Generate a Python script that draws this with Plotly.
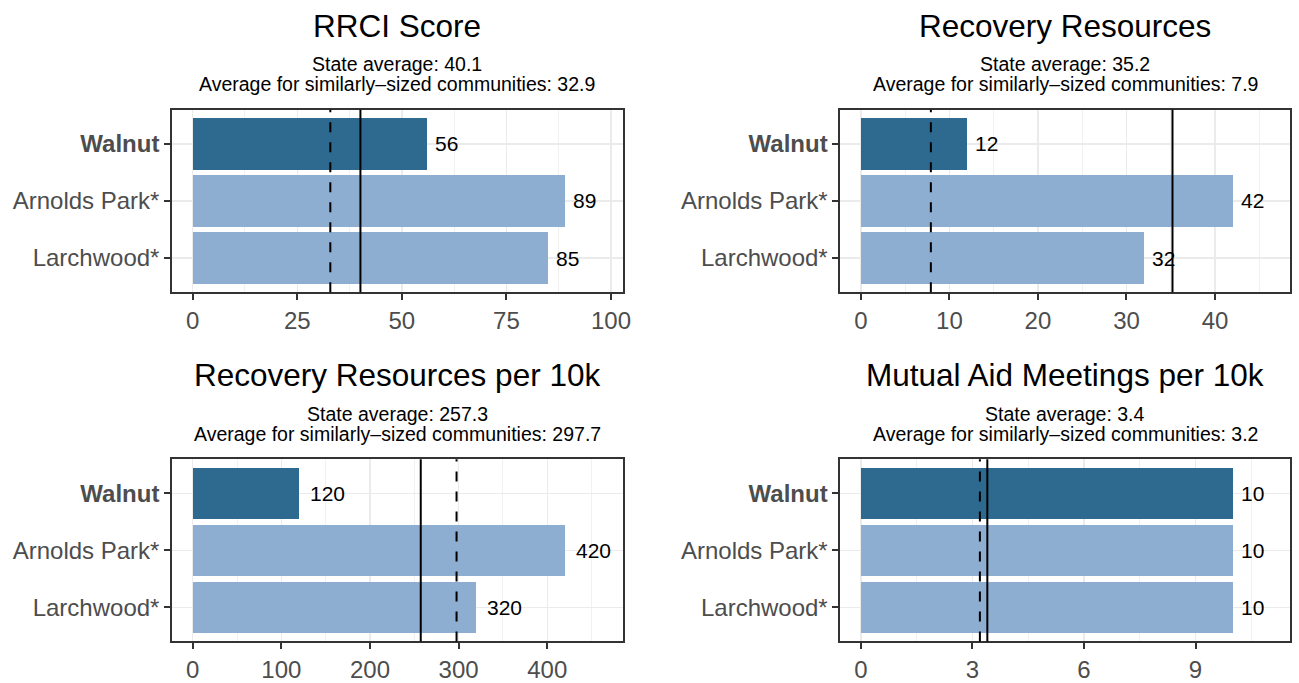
import plotly.graph_objects as go

# ---- data ----
communities = ["Walnut", "Arnolds Park*", "Larchwood*"]
panel_titles = ["RRCI Score", "Recovery Resources",
                "Recovery Resources per 10k", "Mutual Aid Meetings per 10k"]
rrci_score = [56, 89, 85]
recovery_resources = [12, 42, 32]
resources_per_10k = [120, 420, 320]
meetings_per_10k = [10, 10, 10]
state_avg = [40.1, 35.2, 257.3, 3.4]
similar_avg = [32.9, 7.9, 297.7, 3.2]
series = [rrci_score, recovery_resources, resources_per_10k, meetings_per_10k]
tick_labels = [[0, 25, 50, 75, 100], [0, 10, 20, 30, 40],
               [0, 100, 200, 300, 400], [0, 3, 6, 9]]
minor_steps = [12.5, 5, 50, 1.5]

# ---- style ----
W, H = 1299, 683
FONT = "Liberation Sans, Arial, Helvetica, sans-serif"
DARK = "#2E6A8F"
LIGHT = "#8DADD1"
GRID = "#EBEBEB"
BORDER = "#333333"
TICKC = "#4D4D4D"

# panel pixel boxes: (left, right, top, bottom)
boxes = [(173.3, 626.5, 111, 295.7), (845.7, 1298.3, 111, 295.7),
         (173.3, 626.5, 464.7, 649), (845.7, 1298.3, 464.7, 649)]


def px(v):
    return v / W


def py(v):
    return 1 - v / H


fig = go.Figure()
shapes, annotations = [], []
layout_axes = {}

cat_order = communities[::-1]
ticktext = [("<b>%s</b>" % c) if c == "Walnut" else c for c in cat_order]

for i in range(4):
    l, r, t, b = boxes[i]
    n = "" if i == 0 else str(i + 1)
    xa, ya = "x" + n, "y" + n
    vals = series[i]
    lim = 1.1 * max(vals)            # scale limit (label headroom)
    x_range = [-0.05 * lim, 1.05 * lim]  # 5% expansion like ggplot
    colors = [DARK if c == "Walnut" else LIGHT for c in communities]
    fig.add_trace(go.Bar(
        x=vals, y=communities, orientation="h", width=0.9,
        marker=dict(color=colors, line=dict(width=0)),
        xaxis=xa, yaxis=ya, showlegend=False, hoverinfo="skip"))

    ms = minor_steps[i]
    layout_axes["xaxis" + n] = dict(
        domain=[px(l), px(r)], anchor=ya, range=x_range,
        tickmode="array", tickvals=tick_labels[i],
        ticktext=[str(v) for v in tick_labels[i]],
        showgrid=True, gridcolor=GRID, gridwidth=1.4, zeroline=False,
        minor=dict(tick0=ms, dtick=2 * ms, showgrid=True,
                   gridcolor=GRID, gridwidth=0.7, ticks=""),
        showline=True, mirror=True, linecolor=BORDER, linewidth=2,
        ticks="outside", ticklen=6, tickwidth=2, tickcolor=BORDER,
        tickfont=dict(family=FONT, size=24, color=TICKC),
        ticklabelstandoff=0, fixedrange=True)
    layout_axes["yaxis" + n] = dict(
        domain=[py(b), py(t)], anchor=xa,
        type="category", categoryorder="array", categoryarray=cat_order,
        range=[-0.6, 2.6], tickmode="array", tickvals=cat_order,
        ticktext=ticktext,
        showgrid=True, gridcolor=GRID, gridwidth=1.4, zeroline=False,
        showline=True, mirror=True, linecolor=BORDER, linewidth=2,
        ticks="outside", ticklen=6, tickwidth=2, tickcolor=BORDER,
        tickfont=dict(family=FONT, size=24, color=TICKC),
        ticklabelstandoff=0, fixedrange=True)

    # reference lines
    shapes.append(dict(type="line", xref=xa, yref=ya + " domain",
                       x0=similar_avg[i], x1=similar_avg[i], y0=0, y1=1,
                       line=dict(color="black", width=2, dash="10px,10px"),
                       layer="above"))
    shapes.append(dict(type="line", xref=xa, yref=ya + " domain",
                       x0=state_avg[i], x1=state_avg[i], y0=0, y1=1,
                       line=dict(color="black", width=2), layer="above"))

    # value labels
    for c, v in zip(communities, vals):
        lab = str(v)
        annotations.append(dict(
            x=v, y=c, xref=xa, yref=ya, text=lab, showarrow=False,
            xanchor="left", yanchor="middle", xshift=3 * len(lab),
            font=dict(family=FONT, size=21, color="black")))

    cx = px((l + r) / 2)
    # title and subtitle
    annotations.append(dict(
        x=cx, y=py(t - 85), xref="paper", yref="paper",
        text=panel_titles[i], showarrow=False, xanchor="center",
        yanchor="middle", font=dict(family=FONT, size=31.5, color="black")))
    annotations.append(dict(
        x=cx, y=py(t - 46), xref="paper", yref="paper",
        text="State average: %.1f" % state_avg[i], showarrow=False,
        xanchor="center", yanchor="middle",
        font=dict(family=FONT, size=19.5, color="black")))
    annotations.append(dict(
        x=cx, y=py(t - 26), xref="paper", yref="paper",
        text="Average for similarly\u2013sized communities: %.1f" % similar_avg[i],
        showarrow=False, xanchor="center", yanchor="middle",
        font=dict(family=FONT, size=19.5, color="black")))

fig.update_layout(
    width=W, height=H, margin=dict(l=0, r=0, t=0, b=0),
    paper_bgcolor="white", plot_bgcolor="white",
    shapes=shapes, annotations=annotations, bargap=0, showlegend=False,
    font=dict(family=FONT), hovermode=False,
    **layout_axes)

fig.write_html(
    "out.html",
    config={"displayModeBar": False, "staticPlot": True},
    post_script="document.body.style.margin='0';"
                "document.body.style.overflow='hidden';")
